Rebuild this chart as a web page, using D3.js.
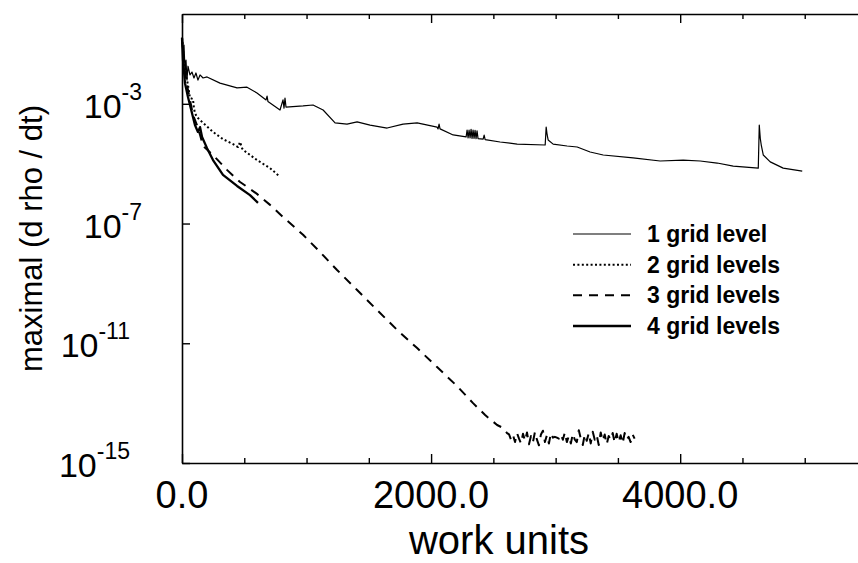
<!DOCTYPE html>
<html>
<head>
<meta charset="utf-8">
<script src="https://cdn.jsdelivr.net/npm/d3@7"></script>
<style>
  body { margin: 0; background: #fff; }
  text { font-family: "Liberation Sans", Arial, Helvetica, sans-serif; fill: #000; }
</style>
</head>
<body>
<svg id="chart" width="858" height="563"></svg>
<script>
// Convergence history: maximal |d rho / dt| against work units for 1..4 grid levels

const level1Work = [0, 8, 16, 24, 32, 40, 48, 64, 80, 96, 112, 128, 145, 169, 201, 305, 442, 522, 602, 675, 683, 690,
  787, 811, 819, 827, 835, 972, 1052, 1133, 1229, 1325, 1406, 1510, 1647, 1775, 1888, 2048, 2056, 2064, 2072, 2177, 2281,
  2289, 2297, 2305, 2313, 2321, 2329, 2337, 2345, 2353, 2361, 2369, 2377, 2418, 2426, 2434, 2554, 2691, 2916, 2924, 2932,
  2940, 2980, 3092, 3173, 3277, 3382, 3622, 3839, 4024, 4161, 4297, 4426, 4627, 4635, 4643, 4651, 4667, 4723, 4827, 4980];
const level1Rate = [1.6e-1, 4.3e-2, 9.2e-2, 1.35e-2, 2.9e-2, 6.2e-3, 1.8e-2, 9.2e-3, 1.15e-2, 7.3e-3, 1.07e-2, 6.2e-3,
  9.2e-3, 7.3e-3, 7.9e-3, 4.9e-3, 3.4e-3, 3.6e-3, 2.3e-3, 1.35e-3, 1.8e-3, 1.2e-3,
  6.2e-4, 1.35e-3, 7.2e-4, 1.55e-3, 7.8e-4, 8.5e-4, 9.1e-4, 6.2e-4, 2.3e-4, 2.1e-4, 2.5e-4, 1.95e-4, 1.55e-4, 2.1e-4,
  2.3e-4, 1.66e-4, 1.45e-4, 2.1e-4, 1.45e-4, 9.1e-5, 7.8e-5,
  1.33e-4, 7.2e-5, 1.33e-4, 7.2e-5, 1.4e-4, 7.0e-5, 1.33e-4, 7.0e-5, 1.3e-4, 6.9e-5, 1.25e-4, 6.9e-5, 6.6e-5, 9.0e-5,
  6.4e-5, 5.3e-5, 4.5e-5, 4.2e-5, 1.66e-4, 9.1e-5,
  6.2e-5, 4.5e-5, 3.9e-5, 3.6e-5, 2.45e-5, 1.95e-5, 1.55e-5, 1.23e-5, 1.32e-5, 1.23e-5, 1.05e-5, 8.3e-6, 7.1e-6, 1.95e-4,
  7.0e-5, 4.2e-5, 1.95e-5, 1.15e-5, 7.1e-6, 5.6e-6];

const level2Work = [0, 16, 32, 48, 64, 88, 96, 104, 120, 169, 249, 329, 410, 450, 466, 482, 490, 602, 707, 779];
const level2Rate = [1.6e-1, 2.9e-2, 9.2e-3, 4.3e-3, 1.55e-3, 1.45e-3, 7.2e-4, 4.9e-4, 3.6e-4, 2.3e-4, 1.15e-4, 6.6e-5,
  4.5e-5, 3.6e-5, 5.3e-5, 3.3e-5, 2.9e-5, 1.32e-5, 7.1e-6, 3.9e-6];

const level3Work = [0, 16, 40, 64, 88, 120, 145, 169, 249, 361, 466, 602, 707, 811, 972, 1108, 1245, 1406, 1566, 1727,
  1888, 2048, 2209, 2337, 2434, 2530, 2578, 2610,
  2626, 2642, 2658, 2674, 2690, 2706, 2722, 2738, 2754, 2770, 2786, 2802, 2818, 2834, 2850, 2866, 2882, 2898, 2914, 2930,
  2946, 2962, 2978, 2994, 3010, 3026, 3042, 3058, 3074, 3090, 3106, 3122, 3138, 3154, 3170, 3186, 3202, 3218, 3234, 3250,
  3266, 3282, 3298, 3314, 3330, 3346, 3362, 3378, 3394, 3410, 3426, 3442, 3458, 3474, 3490, 3506, 3522, 3538, 3554, 3570,
  3586, 3602, 3618, 3634];
const level3Rate = [1.6e-1, 2.0e-2, 4.3e-3, 1.35e-3, 4.3e-4, 1.95e-4, 9.1e-5, 3.9e-5, 1.95e-5, 6.2e-6, 2.45e-6, 9.8e-7,
  4.2e-7, 1.66e-7, 4.2e-8, 1.12e-8, 2.8e-9, 6.0e-10, 1.29e-10, 2.8e-11, 6.9e-12, 1.6e-12, 3.7e-13, 1.0e-13, 4.0e-14,
  1.86e-14, 1.48e-14, 1.0e-14,
  9.0e-15, 6.0e-15, 8.5e-15, 5.0e-15, 10.0e-15, 6.5e-15, 4.5e-15, 9.5e-15, 5.5e-15, 10.5e-15, 4.2e-15, 8.0e-15, 5.0e-15,
  11.0e-15, 6.0e-15, 3.9e-15, 9.0e-15, 12.0e-15, 5.0e-15, 8.5e-15, 4.5e-15, 10.0e-15, 7.0e-15, 7.5e-15, 7.0e-15, 6.5e-15,
  9.0e-15, 6.0e-15, 10.5e-15, 5.0e-15, 8.0e-15, 4.5e-15, 9.5e-15, 6.0e-15, 5.0e-15, 12.5e-15, 6.5e-15, 4.0e-15, 9.0e-15,
  5.5e-15, 10.0e-15, 4.5e-15, 11.0e-15, 6.0e-15, 8.5e-15, 4.0e-15, 10.5e-15, 5.5e-15, 9.0e-15, 4.2e-15, 8.0e-15, 6.0e-15,
  10.0e-15, 4.8e-15, 9.5e-15, 5.0e-15, 8.5e-15, 4.5e-15, 10.0e-15, 6.0e-15, 7.5e-15, 5.0e-15, 9.0e-15, 6.5e-15];

const level4Work = [0, 8, 24, 48, 80, 104, 128, 145, 161, 201, 249, 329, 442, 546, 610];
const level4Rate = [1.6e-1, 2.9e-2, 4.9e-3, 1.7e-3, 4.9e-4, 1.95e-4, 1.15e-4, 1.66e-4, 7.8e-5, 3.3e-5, 1.32e-5, 4.2e-6,
  1.8e-6, 8.9e-7, 4.9e-7];

const seriesNames = ["1 grid level", "2 grid levels", "3 grid levels", "4 grid levels"];
const xTickValues = [0, 500, 1000, 1500, 2000, 2500, 3000, 3500, 4000, 4500, 5000, 5500];
const xLabelValues = [0, 2000, 4000];
const yTickValues = [1e-3, 1e-7, 1e-11, 1e-15];
const xTitle = "work units";
const yTitle = "maximal (d rho / dt)";

const series = [
  { name: seriesNames[0], work: level1Work, rate: level1Rate, width: 1.2, dash: null },
  { name: seriesNames[1], work: level2Work, rate: level2Rate, width: 2, dash: "2,2.4" },
  { name: seriesNames[2], work: level3Work, rate: level3Rate, width: 2, dash: "9,7" },
  { name: seriesNames[3], work: level4Work, rate: level4Rate, width: 2.3, dash: null }
];

const svg = d3.select("#chart");
const plot = { left: 182, right: 867, top: 14, bottom: 463 };

const x = d3.scaleLinear().domain([0, 5500]).range([plot.left, plot.right]);
const y = d3.scaleLog().domain([1e-15, 1]).range([plot.bottom, plot.top]);

const isMajorX = v => xLabelValues.includes(v);

// bottom axis, ticks pointing into the plot
const gx = svg.append("g").attr("transform", `translate(0,${plot.bottom})`)
  .call(d3.axisBottom(x).tickValues(xTickValues).tickSizeInner(-4).tickSizeOuter(0).tickFormat(""));
gx.selectAll(".tick line").attr("y2", d => isMajorX(d) ? -9 : -5);

// top frame with the same tick marks
const gxTop = svg.append("g").attr("transform", `translate(0,${plot.top})`)
  .call(d3.axisTop(x).tickValues(xTickValues).tickSizeInner(-4).tickSizeOuter(0).tickFormat(""));
gxTop.selectAll(".tick line").attr("y2", d => isMajorX(d) ? 9 : 5);

// left axis
svg.append("g").attr("transform", `translate(${plot.left},0)`)
  .call(d3.axisLeft(y).tickValues(yTickValues).tickSizeInner(-8).tickSizeOuter(0).tickFormat(""));

// right frame
svg.append("g").attr("transform", `translate(${plot.right},0)`)
  .call(d3.axisRight(y).tickValues(yTickValues).tickSizeInner(-8).tickSizeOuter(0).tickFormat(""));

svg.selectAll(".domain").attr("stroke", "#000").attr("stroke-width", 1.6);
svg.selectAll(".tick line").attr("stroke", "#000").attr("stroke-width", 1.4);

// x tick labels
svg.append("g").selectAll("text").data(xLabelValues).join("text")
  .attr("x", d => x(d))
  .attr("y", 508)
  .attr("text-anchor", "middle")
  .style("font-size", "38px")
  .text(d => d3.format(".1f")(d));

// y tick labels as powers of ten
const yLabels = svg.append("g").selectAll("text").data(yTickValues).join("text")
  .attr("x", d => {
    const exp = String(Math.round(Math.log10(d)));
    return exp.length > 2 ? 130 : 142;
  })
  .attr("y", d => y(d) + 14)
  .attr("text-anchor", "end")
  .style("font-size", "34px");
yLabels.append("tspan").text("10");
yLabels.append("tspan")
  .attr("dy", -18)
  .style("font-size", "23px")
  .text(d => String(Math.round(Math.log10(d))));

// axis titles
svg.append("text")
  .attr("x", 499)
  .attr("y", 554)
  .attr("text-anchor", "middle")
  .style("font-size", "40px")
  .text(xTitle);

svg.append("text")
  .attr("transform", `translate(42,${(plot.top + plot.bottom) / 2}) rotate(-90)`)
  .attr("text-anchor", "middle")
  .style("font-size", "31px")
  .text(yTitle);

// curves
const line = d3.line().x(d => x(d[0])).y(d => y(d[1]));
svg.append("g").selectAll("path").data(series).join("path")
  .attr("d", s => line(d3.zip(s.work, s.rate)))
  .attr("fill", "none")
  .attr("stroke", "#000")
  .attr("stroke-width", s => s.width)
  .attr("stroke-dasharray", s => s.dash)
  .attr("stroke-linejoin", "round");

// legend
const legend = svg.append("g");
const rowY = d3.scaleLinear().domain([0, 3]).range([234, 326]);
const rows = legend.selectAll("g").data(series).join("g")
  .attr("transform", (s, i) => `translate(0,${rowY(i)})`);
rows.append("line")
  .attr("x1", 573).attr("x2", 631)
  .attr("stroke", "#000")
  .attr("stroke-width", s => s.width)
  .attr("stroke-dasharray", s => s.dash);
rows.append("text")
  .attr("x", 647)
  .attr("y", 8)
  .style("font-size", "23px")
  .style("font-weight", "bold")
  .text(s => s.name);
</script>
</body>
</html>
